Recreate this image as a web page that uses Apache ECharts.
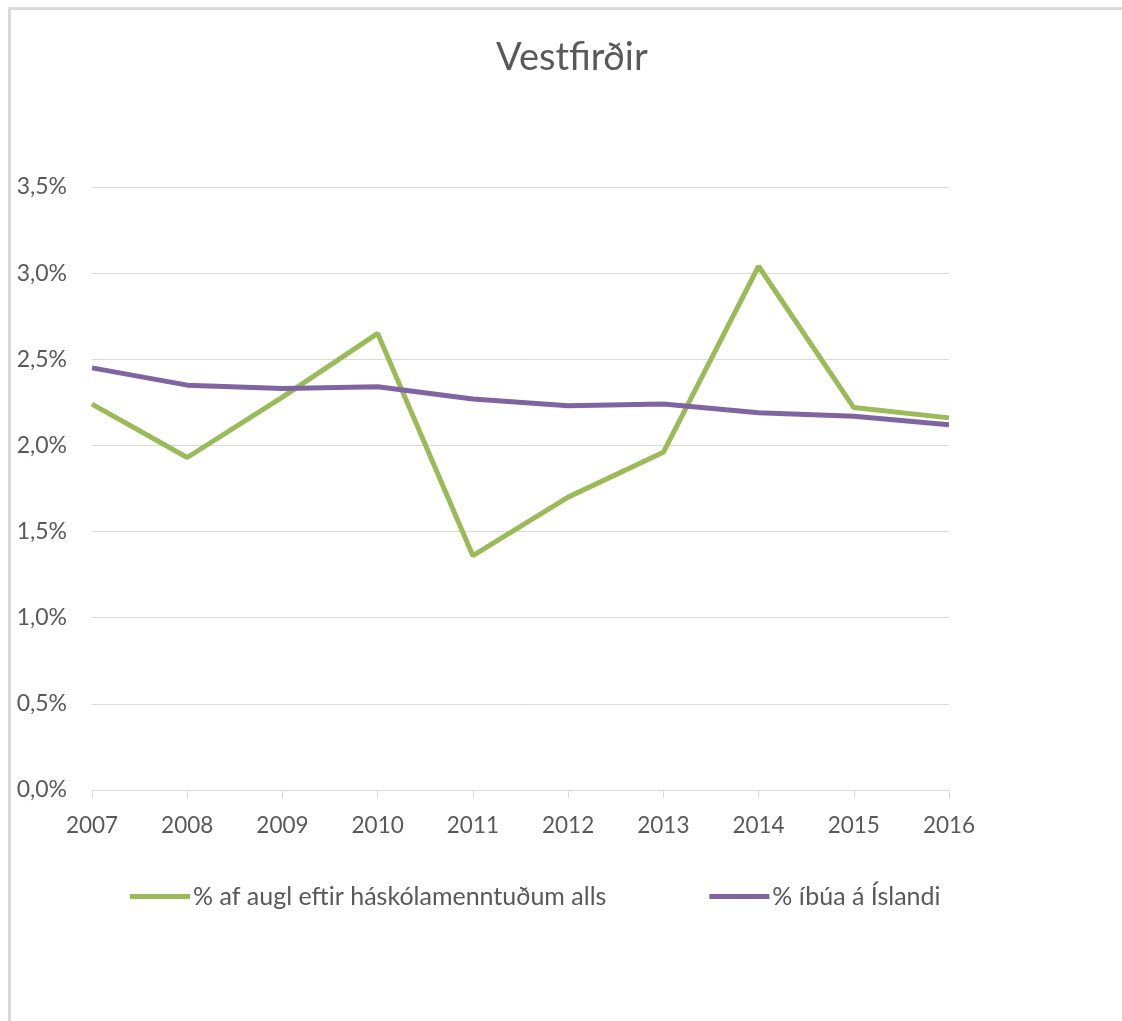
<!DOCTYPE html>
<html lang="is">
<head>
    <meta charset="UTF-8">
    <title>Vestfirðir</title>
    <script src="https://cdn.jsdelivr.net/npm/echarts@6/dist/echarts.min.js"></script>
    <style>
        html, body { margin: 0; padding: 0; background: #fff; }
        #frame { position: absolute; left: 8px; top: 7px; width: 1114px; height: 1014px;
                 border-left: 3px solid #d9d9d9; border-top: 3px solid #d9d9d9; }
        #main { position: absolute; left: 0; top: 0; width: 1122px; height: 1021px; }
    </style>
</head>
<body>
<div id="frame"></div>
<div id="main"></div>
<script>
    // ár
    var years = ['2007', '2008', '2009', '2010', '2011', '2012', '2013', '2014', '2015', '2016'];
    // % af augl eftir háskólamenntuðum alls
    var auglValues = [2.24, 1.93, 2.28, 2.65, 1.36, 1.70, 1.96, 3.04, 2.22, 2.16];
    // % íbúa á Íslandi
    var ibuaValues = [2.45, 2.35, 2.33, 2.34, 2.27, 2.23, 2.24, 2.19, 2.17, 2.12];
    var seriesNames = ['% af augl eftir háskólamenntuðum alls', '% íbúa á Íslandi'];

    var fontName = 'Lato';
    var myChart = echarts.init(document.getElementById('main'));

    var option = {
        backgroundColor: 'transparent',
        animation: false,
        title: {
            text: 'Vestfirðir',
            left: 491,
            top: 34,
            textStyle: { fontFamily: fontName, fontSize: 38, fontWeight: 'normal', color: '#595959' }
        },
        legend: {
            data: seriesNames,
            left: 125,
            top: 879,
            itemWidth: 60,
            itemHeight: 5,
            itemGap: 103,
            icon: 'rect',
            textStyle: { fontFamily: fontName, fontSize: 25, color: '#595959', padding: [0, 0, 0, -2] }
        },
        grid: { left: 92, right: 173, top: 187, bottom: 231, containLabel: false },
        xAxis: {
            type: 'category',
            data: years,
            boundaryGap: false,
            axisLine: { lineStyle: { color: '#d9d9d9', width: 1 } },
            axisTick: { show: true, length: 8, lineStyle: { color: '#d9d9d9' } },
            axisLabel: { fontFamily: fontName, fontSize: 22.5, color: '#595959', margin: 24 },
            splitLine: { show: false }
        },
        yAxis: {
            type: 'value',
            min: 0,
            max: 3.5,
            interval: 0.5,
            axisLine: { show: false },
            axisTick: { show: false },
            axisLabel: {
                fontFamily: fontName, fontSize: 23, color: '#595959', margin: 25,
                formatter: function (v) { return v.toFixed(1).replace('.', ',') + '%'; }
            },
            splitLine: { lineStyle: { color: '#d9d9d9', width: 1 } }
        },
        series: [
            {
                name: seriesNames[0],
                type: 'line',
                data: auglValues,
                symbol: 'none',
                lineStyle: { color: '#9bbb59', width: 5 },
                itemStyle: { color: '#9bbb59' }
            },
            {
                name: seriesNames[1],
                type: 'line',
                data: ibuaValues,
                symbol: 'none',
                lineStyle: { color: '#8064a2', width: 5 },
                itemStyle: { color: '#8064a2' }
            }
        ]
    };

    myChart.setOption(option);
</script>
</body>
</html>
